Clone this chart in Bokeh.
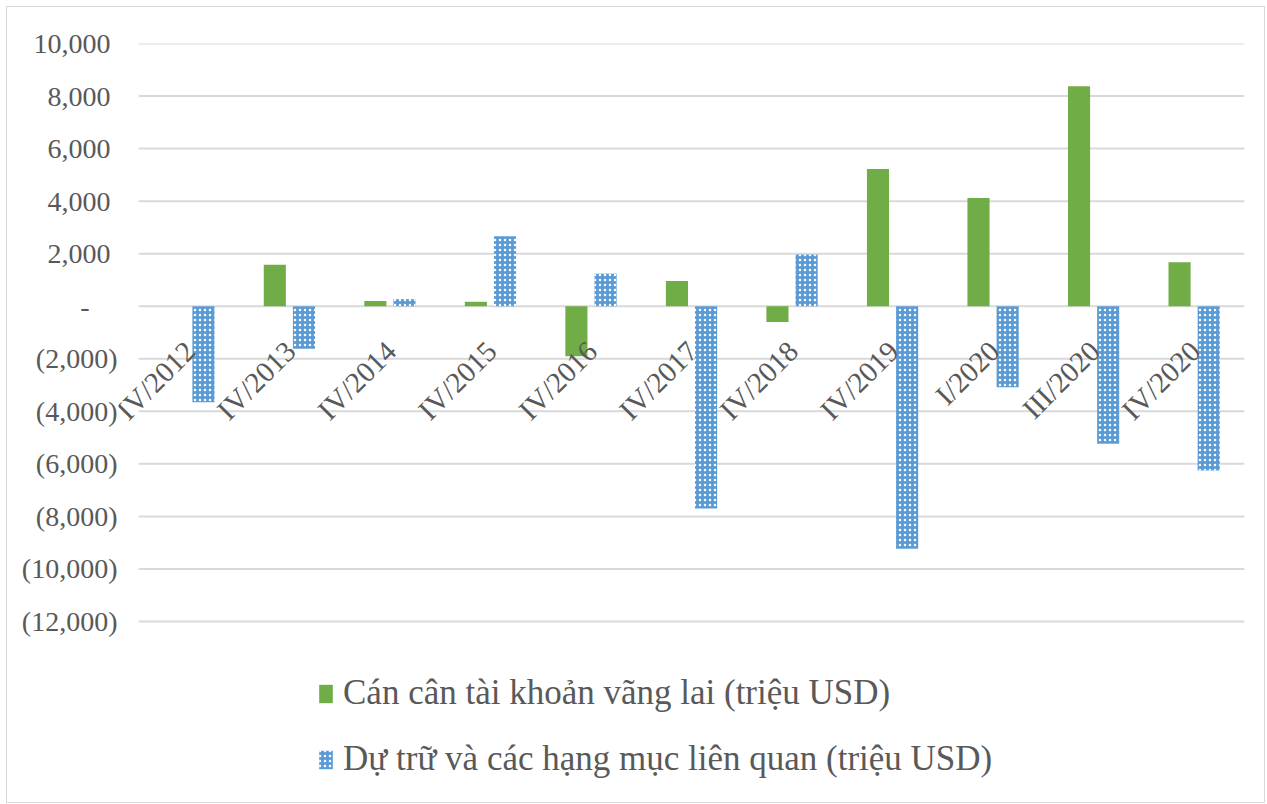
from bokeh.plotting import figure
from bokeh.models import (FactorRange, Range1d, Legend, LegendItem, FixedTicker,
                          ColumnDataSource, LabelSet)
from bokeh.transform import dodge
from bokeh.embed import file_html
from bokeh.resources import INLINE
import math

# Quarterly balance of payments items (million USD)
periods = ["IV/2012", "IV/2013", "IV/2014", "IV/2015", "IV/2016", "IV/2017",
           "IV/2018", "IV/2019", "I/2020", "III/2020", "IV/2020"]
current_account = [0, 1580, 200, 170, -1900, 960, -600, 5220, 4120, 8370, 1670]
reserves = [-3650, -1620, 270, 2660, 1240, -7700, 1970, -9230, -3080, -5230, -6250]

y_ticks = [10000, 8000, 6000, 4000, 2000, 0, -2000, -4000, -6000, -8000, -10000, -12000]
y_tick_labels = ["10,000", "8,000", "6,000", "4,000", "2,000", "-",
                 "(2,000)", "(4,000)", "(6,000)", "(8,000)", "(10,000)", "(12,000)"]

series_names = ["Cán cân tài khoản vãng lai (triệu USD)",
                "Dự trữ và các hạng mục liên quan (triệu USD)"]

GREEN = "#70AD47"
BLUE = "#5B9BD5"
GRID = "#D9D9D9"
TEXT = "#595959"
FONT = "Liberation Serif"

source = ColumnDataSource(data=dict(period=periods, ca=current_account, res=reserves,
                                    zero=[0] * len(periods)))

# The frame runs down into the legend area and a little past the category band
# on both sides; gridlines stop at the band and at the lowest tick.
p = figure(width=1259, height=797, output_backend="svg", toolbar_location=None,
           x_range=FactorRange(*periods, range_padding=0.2, range_padding_units="absolute"),
           y_range=Range1d(-18965, 10000),
           min_border_left=111, min_border_right=2, min_border_top=36, min_border_bottom=0)
p.outline_line_color = None
p.background_fill_color = "white"
p.border_fill_color = "white"
p.xaxis.visible = False
p.xgrid.grid_line_color = None
p.ygrid.grid_line_color = None

# Horizontal gridlines spanning the category band only
grid_src = ColumnDataSource(data=dict(y=y_ticks, x0=[0] * len(y_ticks),
                                      x1=[len(periods)] * len(y_ticks)))
p.segment(x0="x0", x1="x1", y0="y", y1="y", source=grid_src,
          line_color=GRID, line_width=2)

r_ca = p.vbar(x=dodge("period", -0.145, range=p.x_range), top="ca", bottom=0, width=0.22,
              source=source, fill_color=GREEN, line_color=None)
r_res = p.vbar(x=dodge("period", 0.145, range=p.x_range), top="res", bottom=0, width=0.22,
               source=source, fill_color=BLUE, line_color=None,
               hatch_pattern="dot", hatch_color="white", hatch_scale=5, hatch_weight=1)

# Category labels hang below the zero line, rotated upward
cat_labels = LabelSet(x="period", y="zero", text="period", source=source, angle=math.pi / 4,
                      text_align="right", text_baseline="middle", x_offset=1, y_offset=-40,
                      text_font=FONT, text_font_size="29px", text_color=TEXT)
p.add_layout(cat_labels)

yaxis = p.yaxis[0]
yaxis.ticker = FixedTicker(ticks=y_ticks)
overrides = {}
for t, lab in zip(y_ticks, y_tick_labels):
    if lab.startswith("("):
        overrides[t] = lab
    elif lab == "-":
        overrides[t] = lab + "\u00a0" * 4
    else:
        overrides[t] = lab + "\u00a0"
yaxis.major_label_overrides = overrides
yaxis.axis_line_color = None
yaxis.major_tick_line_color = None
yaxis.minor_tick_line_color = None
yaxis.major_tick_in = 0
yaxis.major_tick_out = 0
yaxis.major_label_standoff = 1
yaxis.major_label_text_font = FONT
yaxis.major_label_text_font_size = "28px"
yaxis.major_label_text_color = TEXT

legend = Legend(items=[LegendItem(label=series_names[0], renderers=[r_ca]),
                       LegendItem(label=series_names[1], renderers=[r_res])],
                location=(199, 25), orientation="vertical",
                label_text_font=FONT, label_text_font_size="35px", label_text_color=TEXT,
                glyph_width=17, glyph_height=23, label_standoff=9, spacing=26,
                padding=0, margin=0, border_line_color=None, background_fill_alpha=0)
p.add_layout(legend, "center")

p.styles = {"border": "1px solid #D9D9D9", "margin": "6px 0 0 6px"}

open("out.html", "w").write(file_html(p, INLINE))
